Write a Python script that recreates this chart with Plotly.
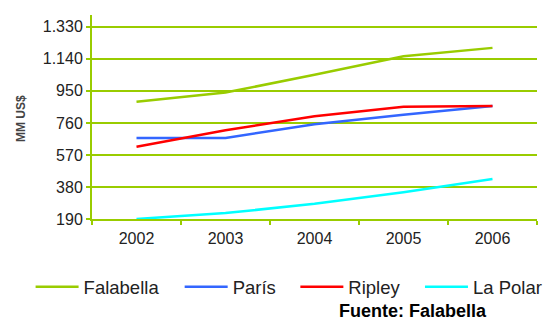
import plotly.graph_objects as go

years = ["2002", "2003", "2004", "2005", "2006"]
falabella = [885, 940, 1045, 1155, 1205]
paris = [671, 671, 752, 809, 860]
ripley = [619, 716, 800, 856, 860]
la_polar = [190, 225, 280, 348, 427]

y_tickvals = [190, 380, 570, 760, 950, 1140, 1330]
y_ticktext = ["190", "380", "570", "760", "950", "1.140", "1.330"]

series = [
    ("Falabella", falabella, "#99CC00"),
    ("París", paris, "#3366FF"),
    ("Ripley", ripley, "#FF0000"),
    ("La Polar", la_polar, "#00FFFF"),
]

GREEN = "#99CC00"
FONT = "Liberation Sans, Arial, sans-serif"
legend_ids = ["legend", "legend2", "legend3", "legend4"]
legend_x = [-0.138, 0.197, 0.457, 0.737]

fig = go.Figure()
for (name, vals, col), lid in zip(series, legend_ids):
    fig.add_trace(go.Scatter(x=years, y=vals, name=name, mode="lines",
                             line=dict(color=col, width=2.5), legend=lid))

legend_common = dict(orientation="h", xanchor="left", y=-0.335, yanchor="middle",
                     font=dict(size=18.5, color="#222222", family=FONT),
                     itemwidth=43, bgcolor="rgba(0,0,0,0)")
layout_legends = {}
for lid, lx in zip(legend_ids, legend_x):
    layout_legends[lid] = dict(x=lx, **legend_common)

fig.update_layout(
    width=555, height=322,
    margin=dict(l=92, r=8, t=15, b=103),
    paper_bgcolor="white", plot_bgcolor="white",
    font=dict(family=FONT, size=16, color="#222222"),
    showlegend=True,
    xaxis=dict(type="category", tickson="boundaries", ticks="outside", ticklen=4,
               tickcolor=GREEN, tickwidth=2, showline=True, linecolor=GREEN, linewidth=2,
               showgrid=False, tickfont=dict(size=16, color="#222222"),
               ticklabelstandoff=4, range=[-0.5, 4.5]),
    yaxis=dict(range=[190, 1400], tickvals=y_tickvals, ticktext=y_ticktext,
               ticks="outside", ticklen=4, tickcolor=GREEN, tickwidth=2,
               showline=True, linecolor=GREEN, linewidth=2,
               showgrid=True, gridcolor=GREEN, gridwidth=2, zeroline=False,
               tickfont=dict(size=16, color="#222222")),
    annotations=[
        dict(text="<b>MM US$</b>", xref="paper", yref="paper", x=-0.16, y=0.494,
             textangle=-90, showarrow=False, font=dict(size=12, color="#444444", family=FONT),
             xanchor="center", yanchor="middle"),
        dict(text="<b>Fuente: Falabella</b>", xref="paper", yref="paper", x=0.5516, y=-0.452,
             showarrow=False, font=dict(size=18, color="#000000", family=FONT),
             xanchor="left", yanchor="middle"),
    ],
    **layout_legends,
)

fig.write_html("out.html")
